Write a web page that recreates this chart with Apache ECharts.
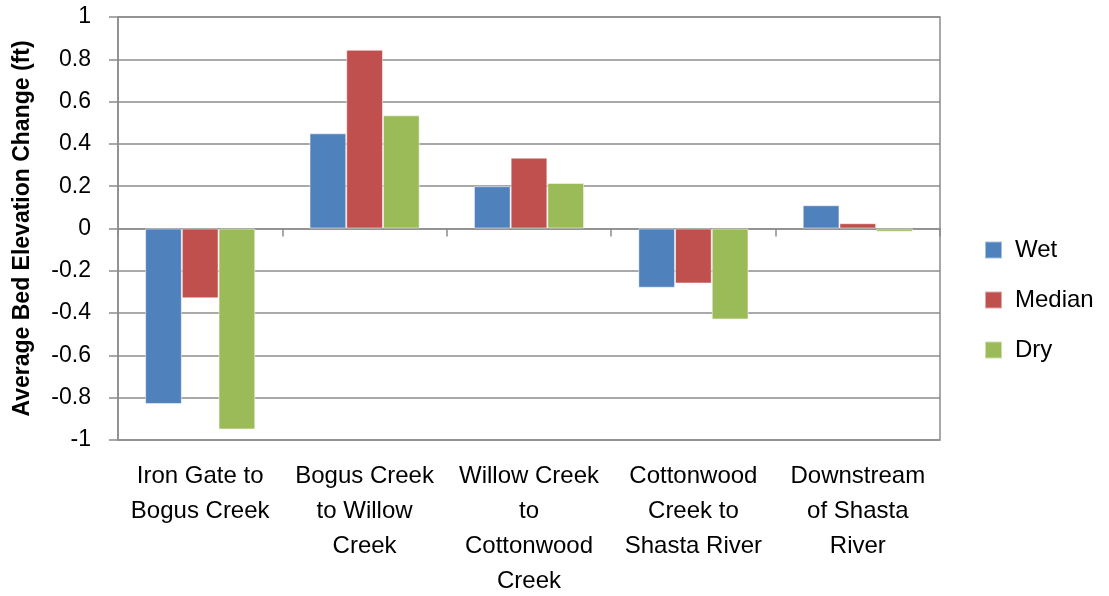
<!DOCTYPE html>
<html>
<head>
<meta charset="utf-8">
<script src="https://cdn.jsdelivr.net/npm/echarts@6/dist/echarts.min.js"></script>
<style>
  html, body { margin: 0; padding: 0; background: #fff; }
  #bed-chart { width: 1109px; height: 596px; }
</style>
</head>
<body>
<div id="bed-chart"></div>
<script>
var reaches = [
	'Iron Gate to\nBogus Creek',
	'Bogus Creek\nto Willow\nCreek',
	'Willow Creek\nto\nCottonwood\nCreek',
	'Cottonwood\nCreek to\nShasta River',
	'Downstream\nof Shasta\nRiver'
];
var wetValues = [-0.83, 0.45, 0.20, -0.28, 0.11];
var medianValues = [-0.33, 0.845, 0.335, -0.26, 0.025];
var dryValues = [-0.95, 0.535, 0.215, -0.43, -0.015];
var seriesNames = ['Wet', 'Median', 'Dry'];

var fontName = '"Liberation Sans", Arial, sans-serif';
var gridColor = '#8c8c8c';

function makeBar(name, values, color) {
	return {
		name: name,
		type: 'bar',
		xAxisIndex: 0,
		data: values,
		barGap: '0%',
		barCategoryGap: '33%',
		itemStyle: {
			color: color,
			borderColor: 'rgba(255,255,255,0.5)',
			borderWidth: 1
		}
	};
}

var option_bed = {
	animation: false,
	textStyle: { fontFamily: fontName },
	legend: {
		orient: 'vertical',
		left: 979,
		top: 233,
		itemWidth: 17,
		itemHeight: 17,
		itemGap: 26,
		icon: 'rect',
		textStyle: { fontSize: 24, color: '#000', fontFamily: fontName, padding: [0, 0, 0, 8] },
		data: seriesNames
	},
	grid: {
		left: 118,
		right: 169,
		top: 17,
		bottom: 156,
		show: true,
		borderColor: gridColor,
		borderWidth: 1.5,
		outerBoundsMode: 'none',
		containLabel: false
	},
	xAxis: [
		{
			type: 'category',
			data: reaches,
			position: 'bottom',
			axisLine: { show: false, onZero: false },
			axisTick: { show: false },
			axisLabel: {
				fontSize: 24,
				color: '#000',
				lineHeight: 35,
				margin: 19,
				interval: 0,
				fontFamily: fontName
			}
		},
		{
			type: 'category',
			data: reaches,
			position: 'bottom',
			axisLine: { show: true, onZero: true, lineStyle: { color: gridColor, width: 1.5 } },
			axisTick: { show: true, length: 8, lineStyle: { color: gridColor, width: 1.5 } },
			axisLabel: { show: false }
		}
	],
	yAxis: {
		type: 'value',
		min: -1,
		max: 1,
		interval: 0.2,
		name: 'Average Bed Elevation Change (ft)',
		nameLocation: 'middle',
		nameGap: 84,
		nameTextStyle: { fontSize: 23, fontWeight: 'bold', color: '#000', fontFamily: fontName },
		axisLine: { show: true, lineStyle: { color: gridColor, width: 1.5 } },
		axisTick: { show: true, inside: false, length: 9, lineStyle: { color: gridColor, width: 1.5 } },
		axisLabel: {
			fontSize: 23,
			color: '#000',
			margin: 27,
			fontFamily: fontName,
			formatter: function (v) {
				return String(Math.round(v * 10) / 10);
			}
		},
		splitLine: { show: true, lineStyle: { color: gridColor, width: 1.5 } }
	},
	series: [
		makeBar(seriesNames[0], wetValues, '#4F81BD'),
		makeBar(seriesNames[1], medianValues, '#C0504D'),
		makeBar(seriesNames[2], dryValues, '#9BBB59')
	]
};

var bedChart = echarts.init(document.getElementById('bed-chart'));
bedChart.setOption(option_bed);
</script>
</body>
</html>
